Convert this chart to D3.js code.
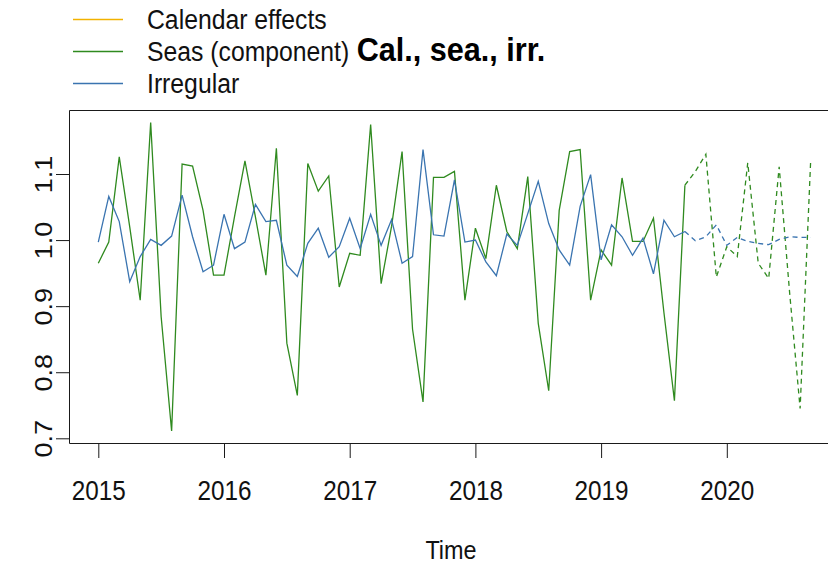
<!DOCTYPE html>
<html>
<head>
<meta charset="utf-8">
<script src="https://cdn.jsdelivr.net/npm/d3@7"></script>
<style>
  html, body { margin: 0; padding: 0; background: #fff; }
  svg { display: block; font-family: "Liberation Sans", Arial, sans-serif; }
</style>
</head>
<body>
<svg id="chart" width="828" height="565"></svg>
<script>
// ---- data ----
const startYear = 2015;          // monthly series starting Jan 2015
const xTickYears = [2015, 2016, 2017, 2018, 2019, 2020];
const yTickValues = [0.7, 0.8, 0.9, 1.0, 1.1];
const legendLabels = ["Calendar effects", "Seas (component)", "Irregular"];
const legendColors = ["#F2B200", "#2F8A1F", "#3A74B0"];
const titleText = "Cal., sea., irr.";
const xLabel = "Time";

// Seasonal component (observed, Jan 2015 - Sep 2019)
const seasonal = [
  0.965, 0.997, 1.126, 1.020, 0.909, 1.178, 0.884, 0.711, 1.115, 1.112, 1.045, 0.947,
  0.947, 1.035, 1.120, 1.035, 0.947, 1.139, 0.844, 0.765, 1.116, 1.074, 1.097, 0.929,
  0.980, 0.977, 1.175, 0.934, 1.021, 1.134, 0.865, 0.755, 1.095, 1.095, 1.104, 0.909,
  1.018, 0.972, 1.083, 1.013, 0.987, 1.096, 0.874, 0.772, 1.045, 1.134, 1.137, 0.909,
  0.985, 0.962, 1.094, 0.998, 0.998, 1.033, 0.890, 0.757, 1.083
];
// Seasonal forecast (Sep 2019 - Sep 2020, dashed)
const seasonalFc = [
  1.083, 1.104, 1.130, 0.944, 0.990, 0.975, 1.117, 0.965, 0.942, 1.111, 0.920, 0.745, 1.118
];
// Irregular component (observed)
const irregular = [
  0.997, 1.066, 1.028, 0.937, 0.975, 1.001, 0.992, 1.006, 1.068, 1.005, 0.952, 0.962,
  1.039, 0.987, 0.997, 1.054, 1.028, 1.030, 0.962, 0.945, 0.995, 1.018, 0.974, 0.990,
  1.033, 0.987, 1.039, 0.992, 1.031, 0.965, 0.975, 1.137, 1.008, 1.006, 1.091, 0.997,
  1.000, 0.967, 0.946, 1.009, 0.992, 1.040, 1.089, 1.025, 0.985, 0.962, 1.051, 1.099,
  0.970, 1.023, 1.005, 0.977, 1.003, 0.949, 1.030, 1.005, 1.013
];
// Irregular forecast (dashed)
const irregularFc = [
  1.013, 0.999, 1.005, 1.023, 0.992, 1.004, 0.998, 0.995, 0.993, 1.001, 1.005, 1.004, 1.004
];

// ---- layout ----
const svg = d3.select("#chart");
const frameL = 69.5, frameT = 110.5, frameB = 443.5, frameR = 833;
const TX = 0.9; // horizontal glyph compression of the reference

const x = d3.scaleLinear().domain([2015, 2020]).range([98.3, 726.8]);
const y = d3.scaleLinear().domain([0.7, 1.1]).range([438.3, 174]);

const toPoints = (arr, offset) => arr.map((v, i) => ({ t: startYear + (i + offset) / 12, v }));
const line = d3.line().x(d => x(d.t)).y(d => y(d.v));

// frame
svg.append("path")
  .attr("d", `M${frameR},${frameT}H${frameL}V${frameB}H${frameR}`)
  .attr("fill", "none").attr("stroke", "#1a1a1a").attr("stroke-width", 1);

// series
const fcOffset = seasonal.length - 1;
svg.append("path").datum(toPoints(seasonal, 0)).attr("d", line)
  .attr("fill", "none").attr("stroke", legendColors[1]).attr("stroke-width", 1.3);
svg.append("path").datum(toPoints(seasonalFc, fcOffset)).attr("d", line)
  .attr("fill", "none").attr("stroke", legendColors[1]).attr("stroke-width", 1.3)
  .attr("stroke-dasharray", "5,4");
svg.append("path").datum(toPoints(irregular, 0)).attr("d", line)
  .attr("fill", "none").attr("stroke", legendColors[2]).attr("stroke-width", 1.3);
svg.append("path").datum(toPoints(irregularFc, fcOffset)).attr("d", line)
  .attr("fill", "none").attr("stroke", legendColors[2]).attr("stroke-width", 1.3)
  .attr("stroke-dasharray", "5,4");

// x axis
const gx = svg.append("g").attr("transform", `translate(0,${frameB - 0.5})`)
  .call(d3.axisBottom(x).tickValues(xTickYears).tickSize(15).tickFormat(d3.format("d")));
gx.select(".domain").remove();
gx.selectAll(".tick line").attr("stroke", "#1a1a1a");
gx.selectAll(".tick text")
  .attr("y", 0).attr("dy", null)
  .attr("transform", `translate(0,57) scale(${TX},1)`)
  .attr("font-size", 27).attr("font-family", "Liberation Sans, Arial, sans-serif")
  .attr("fill", "#111");

// y axis
const gy = svg.append("g").attr("transform", `translate(${frameL - 0.5},0)`)
  .call(d3.axisLeft(y).tickValues(yTickValues).tickSize(13).tickFormat(d3.format(".1f")));
gy.select(".domain").remove();
gy.selectAll(".tick line").attr("stroke", "#1a1a1a");
gy.selectAll(".tick text")
  .attr("x", 0).attr("y", 0).attr("dy", null)
  .attr("text-anchor", "middle")
  .attr("transform", `translate(-17.5,0) rotate(-90) scale(1,${TX})`)
  .attr("font-size", 27).attr("font-family", "Liberation Sans, Arial, sans-serif")
  .attr("fill", "#111");

// x label
svg.append("text").attr("transform", `translate(451,559) scale(${TX},1)`)
  .attr("text-anchor", "middle").attr("font-size", 26).attr("fill", "#111").text(xLabel);

// legend
const legendY = [19, 51, 83];
legendLabels.forEach((lab, i) => {
  svg.append("line").attr("x1", 73).attr("x2", 123)
    .attr("y1", legendY[i] + 0.5).attr("y2", legendY[i] + 0.5)
    .attr("stroke", legendColors[i]).attr("stroke-width", 1.3);
  svg.append("text").attr("transform", `translate(147,${legendY[i] + 10}) scale(${TX},1)`)
    .attr("font-size", 27.5).attr("fill", "#111").text(lab);
});

// title
svg.append("text").attr("transform", `translate(451,61) scale(${TX},1)`)
  .attr("text-anchor", "middle").attr("font-size", 34).attr("font-weight", "bold")
  .attr("fill", "#000").text(titleText);
</script>
</body>
</html>
